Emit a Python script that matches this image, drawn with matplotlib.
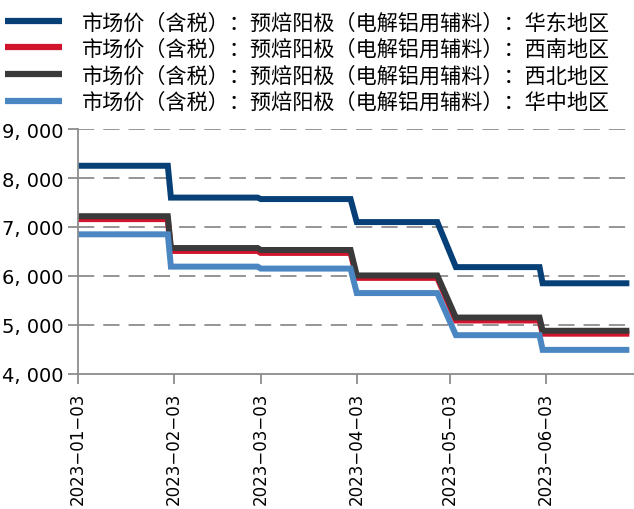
import matplotlib
matplotlib.use("Agg")
import matplotlib.pyplot as plt
import matplotlib.dates as mdates
import numpy as np
import pandas as pd

# 价格变动节点
dates = pd.to_datetime([
    "2023-01-03", "2023-02-01", "2023-02-02", "2023-03-02", "2023-03-03",
    "2023-04-01", "2023-04-03", "2023-04-29", "2023-05-05", "2023-06-01",
    "2023-06-02", "2023-06-30",
])
east = [8250, 8250, 7600, 7600, 7570, 7570, 7100, 7100, 6180, 6180, 5850, 5850]
southwest = [7160, 7160, 6510, 6510, 6470, 6470, 5960, 5960, 5090, 5090, 4820, 4820]
northwest = [7220, 7220, 6570, 6570, 6530, 6530, 6010, 6010, 5150, 5150, 4880, 4880]
central = [6850, 6850, 6190, 6190, 6150, 6150, 5650, 5650, 4790, 4790, 4490, 4490]

prefix = "市场价（含税）：预焙阳极（电解铝用辅料）："
regions = ["华东地区", "西南地区", "西北地区", "华中地区"]
colors = ["#073f77", "#d0142b", "#3a3a3a", "#4a86c1"]
series = [east, southwest, northwest, central]

fig = plt.figure(figsize=(6.34, 5.10), dpi=100)
ax = fig.add_axes([0.123, 0.265, 0.877, 0.48])

for vals, name, c in zip(series, regions, colors):
    ax.plot(dates, vals, color=c, lw=4.3, label=prefix + name,
            solid_joinstyle="miter", solid_capstyle="butt")

ax.set_ylim(4000, 9000)
ax.set_yticks(np.arange(4000, 9001, 1000))
ax.set_yticklabels([f"{v:,.0f}".replace(",", ", ") for v in range(4000, 9001, 1000)])
ax.set_xlim(pd.Timestamp("2023-01-03"), pd.Timestamp("2023-07-01 12:00"))

ticks = pd.to_datetime(["2023-01-03", "2023-02-03", "2023-03-03",
                        "2023-04-03", "2023-05-03", "2023-06-03"])
ax.set_xticks(ticks)
ax.xaxis.set_major_formatter(mdates.DateFormatter("%Y\u2212%m\u2212%d"))

for y in range(5000, 9001, 1000):
    ax.axhline(y, color="#8c8c8c", lw=1.3, dashes=(9, 5), zorder=0)

for s in ["top", "right"]:
    ax.spines[s].set_visible(False)
for s in ["left", "bottom"]:
    ax.spines[s].set_color("#8c8c8c")
    ax.spines[s].set_linewidth(1.3)
ax.tick_params(axis="both", colors="#8c8c8c", labelcolor="black",
               labelsize=14, length=7, width=1.3)
ax.tick_params(axis="x", labelsize=12, pad=6, labelrotation=90)

fig.legend(loc="upper left", bbox_to_anchor=(-0.016, 1.005), frameon=False,
           prop={"family": ["Noto Sans CJK SC", "DejaVu Sans"], "size": 15.2},
           handlelength=2.7, handletextpad=0.95, labelspacing=0.22,
           borderaxespad=0.3)
for line in fig.legends[0].get_lines():
    line.set_linewidth(4.5)

fig.savefig("out.png", dpi=100)
